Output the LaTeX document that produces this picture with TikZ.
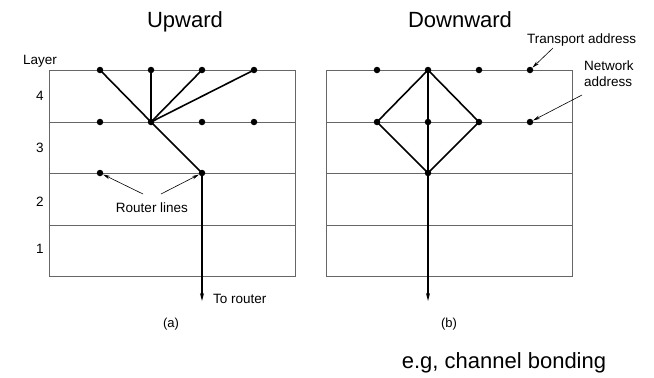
\documentclass[tikz,border=0pt]{standalone}
\usepackage{fontspec}
\setmainfont{Liberation Sans}
\usetikzlibrary{arrows.meta}
\begin{document}
\begin{tikzpicture}[x=1bp,y=-1bp,
  grid/.style={draw=black!60,line width=0.8bp},
  dot/.style={circle,fill=black,inner sep=0pt,minimum size=6.5bp},
  link/.style={line width=1.6bp,black},
  big/.style={font=\fontsize{22bp}{26bp}\selectfont,inner sep=0pt,anchor=base},
  small/.style={font=\fontsize{13.5bp}{16bp}\selectfont,inner sep=0pt,anchor=base},
  tip/.style={-{Stealth[length=7bp,width=3.5bp]},line width=0.6bp},
  downarrow/.style={link,line width=1.3bp,-{Stealth[length=8bp,width=4bp]}}]
\useasboundingbox (0,0) rectangle (654,377);

% layer grids
\foreach \xa/\xb in {49/295, 326/572} {
  \draw[grid] (\xa,70) rectangle (\xb,276);
  \foreach \yy in {122,173,225} \draw[grid] (\xa,\yy) -- (\xb,\yy);
}

% titles
\node[big] (up) at (185,27) {Upward};
\node[big] (down) at (460,27) {Downward};
\node[big] (bond) at (504,368) {e.g, channel bonding};

% layer labels
\node[small] (layer) at (40,64) {Layer};
\node[small] (l4) at (40,100) {4};
\node[small] (l3) at (40,152) {3};
\node[small] (l2) at (40,206) {2};
\node[small] (l1) at (40,253) {1};

% (a) upward multiplexing
\foreach \n/\xx in {1/100,2/151,3/202,4/254} {
  \node[dot] (a4\n) at (\xx,70) {};
  \node[dot] (a3\n) at (\xx,122) {};
}
\node[dot] (a21) at (100,173) {};
\node[dot] (a23) at (202,173) {};
\foreach \n in {1,2,3,4} \draw[link] (a4\n.center) -- (a32.center);
\draw[link] (a32.center) -- (a23.center);
\coordinate (aout) at (202,301);
\draw[downarrow] (a23.center) -- (aout);

\node[small] (rl) at (152,212) {Router lines};
\coordinate (rlL) at (143,194);
\coordinate (rlR) at (161,194);
\draw[tip] (rlL) -- (a21);
\draw[tip] (rlR) -- (a23);
\node[small,anchor=base west] (tor) at (213,303) {To router};
\node[small,font=\fontsize{13bp}{16bp}\selectfont] (capa) at (171,327) {(a)};

% (b) downward multiplexing
\foreach \n/\xx in {1/377,2/428,3/479,4/530} {
  \node[dot] (b4\n) at (\xx,70) {};
  \node[dot] (b3\n) at (\xx,122) {};
}
\node[dot] (b22) at (428,173) {};
\draw[link] (b42.center) -- (b31.center) -- (b22.center) -- (b33.center) -- cycle;
\draw[link] (b42.center) -- (b22.center);
\coordinate (bout) at (428,301);
\draw[downarrow] (b22.center) -- (bout);
\node[small,font=\fontsize{13bp}{16bp}\selectfont] (capb) at (449,327) {(b)};

\node[small,anchor=base west] (ta) at (527,43) {Transport address};
\coordinate (taS) at (553,48);
\draw[tip] (taS) -- (b44);
\node[small,anchor=base west,align=left] (na) at (584,86) {Network\\address};
\coordinate (naS) at (582,95);
\draw[tip] (naS) -- (b34);
\end{tikzpicture}
\end{document}
